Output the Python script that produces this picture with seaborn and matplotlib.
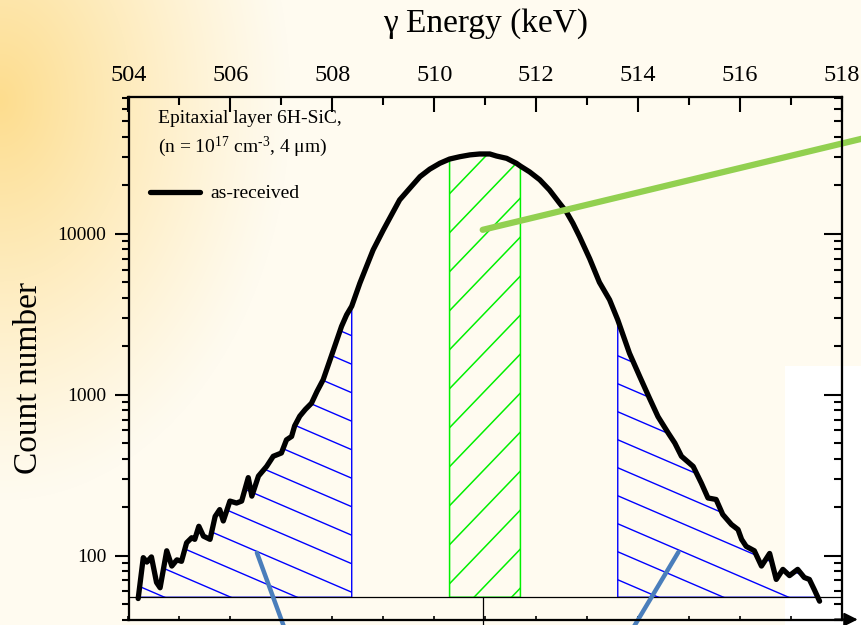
import numpy as np
import pandas as pd
import matplotlib
matplotlib.use("Agg")
import matplotlib.pyplot as plt
import seaborn as sns
from matplotlib.collections import LineCollection
from matplotlib.patches import Rectangle
from matplotlib.ticker import MultipleLocator, FixedLocator, LogLocator, NullFormatter

# ---------------- data ----------------
energy_kev = [
    504.19, 504.29, 504.36, 504.45, 504.55, 504.62, 504.75, 504.85, 504.95, 505.04,
    505.14, 505.24, 505.30, 505.38, 505.47, 505.60, 505.70, 505.79, 505.86, 505.99,
    506.12, 506.22, 506.35, 506.42, 506.55, 506.71, 506.84, 507.00, 507.10, 507.20,
    507.26, 507.36, 507.47, 507.59, 507.70, 507.82, 507.99, 508.18, 508.28, 508.38,
    508.54, 508.67, 508.80, 509.00, 509.16, 509.32, 509.52, 509.72, 509.91, 510.11,
    510.30, 510.50, 510.70, 510.89, 511.09, 511.22, 511.42, 511.61, 511.69, 511.87,
    512.07, 512.26, 512.46, 512.59, 512.72, 512.85, 513.05, 513.24, 513.44, 513.60,
    513.83, 514.03, 514.22, 514.39, 514.59, 514.72, 514.85, 515.08, 515.24, 515.37,
    515.53, 515.66, 515.83, 515.96, 516.03, 516.12, 516.28, 516.42, 516.58, 516.71,
    516.84, 516.97, 517.13, 517.26, 517.36, 517.46, 517.56,
]
counts = [
    54, 97, 91, 98, 68, 63, 107, 86, 94, 92,
    120, 129, 126, 152, 132, 126, 175, 193, 164, 218,
    212, 218, 305, 234, 312, 358, 414, 434, 524, 550,
    640, 735, 810, 885, 1050, 1240, 1775, 2660, 3140, 3550,
    4940, 6270, 7950, 10570, 13120, 16270, 19230, 22700, 25260, 27500,
    29200, 30200, 31000, 31400, 31400, 30500, 29500, 27500, 26400, 24300,
    21700, 18750, 15500, 13750, 11650, 9620, 7000, 5000, 3890, 2920,
    1810, 1300, 955, 730, 578, 500, 414, 358, 282, 228,
    223, 180, 156, 145, 126, 114, 107, 86, 103, 71,
    82, 75, 82, 73, 71, 61, 52,
]
wing_regions = [(504.19, 508.38), (513.60, 517.56)]
center_region = (510.30, 511.69)
baseline_counts = 55
marker_energy = 510.95
green_callout_point = (510.95, 10600)
blue_callout_points = [(506.52, 104), (514.79, 105)]

x_ticks = [504, 506, 508, 510, 512, 514, 516, 518]
y_ticks = [100, 1000, 10000]
y_tick_labels = ["100", "1000", "10000"]
x_label = "γ Energy (keV)"
y_label = "Count number"
sample_lines = ["Epitaxial layer 6H-SiC,", r"(n = 10$^{17}$ cm$^{\text{-3}}$, 4 μm)"]
legend_label = "as-received"

# ---------------- style ----------------
sns.set_style("ticks", rc={"axes.edgecolor": "black", "xtick.color": "black",
                           "ytick.color": "black", "text.color": "black",
                           "axes.labelcolor": "black"})
plt.rcParams["font.family"] = ["Liberation Serif", "DejaVu Serif"]
plt.rcParams["mathtext.fontset"] = "custom"
plt.rcParams["mathtext.rm"] = "Liberation Serif"
plt.rcParams["mathtext.it"] = "Liberation Serif:italic"
plt.rcParams["mathtext.bf"] = "Liberation Serif:bold"

W, H, DPI = 861, 625, 100
fig = plt.figure(figsize=(W / DPI, H / DPI), dpi=DPI)

# background: warm glow along the upper-left edge, plus white patch lower right
bg = fig.add_axes([0, 0, 1, 1], zorder=-10)
yy, xx = np.mgrid[0:H, 0:W]
d = np.sqrt(((xx - 0.0) / 290.0) ** 2 + ((yy - 100.0) / 400.0) ** 2)
w = np.clip(1 - d, 0, 1) ** 1.15
cream = np.array([255, 251, 240]) / 255.0
orange = np.array([253, 221, 142]) / 255.0
img = cream + w[..., None] * (orange - cream)
bg.imshow(img, extent=[0, W, H, 0], aspect="auto", interpolation="bilinear")
bg.add_patch(Rectangle((785, 366), W - 785, H - 366, color="white", lw=0))
bg.set_xlim(0, W)
bg.set_ylim(H, 0)
bg.axis("off")

# main axes
ax_l, ax_r, ax_t, ax_b = 128.5, 842.0, 97.0, 619.5
ax = fig.add_axes([ax_l / W, 1 - ax_b / H, (ax_r - ax_l) / W, (ax_b - ax_t) / H])
ax.set_facecolor("none")
ax.set_yscale("log")
ax.set_xlim(504, 518)
ax.set_ylim(40, 71000)

df = pd.DataFrame({"Energy": energy_kev, "Counts": counts})
sns.lineplot(data=df, x="Energy", y="Counts", ax=ax, color="black", lw=3.8,
             label=legend_label, zorder=6, sort=False,
             solid_joinstyle="round", solid_capstyle="round")

E = np.array(energy_kev, dtype=float)
C = np.array(counts, dtype=float)


def hatched(lo, hi, color, slope, spacing, anchor, lw=1.0):
    m = (E >= lo - 1e-9) & (E <= hi + 1e-9)
    poly = ax.fill_between(E[m], C[m], baseline_counts, facecolor="none",
                           edgecolor=color, lw=lw, zorder=3)
    axp, ayp = anchor[0], H - anchor[1]
    b0 = ayp - slope * axp
    segs = []
    for k in range(-120, 121):
        b = b0 + k * spacing
        segs.append([(0.0, b / H), (1.0, (b + slope * W) / H)])
    lc = LineCollection(segs, colors=color, linewidths=lw,
                        transform=fig.transFigure, zorder=3)
    ax.add_collection(lc, autolim=False)
    lc.set_clip_path(poly.get_paths()[0], ax.transData)


hatched(*wing_regions[0], "#0000FF", -0.43, 28.5, (351.7, 392.7))
hatched(*wing_regions[1], "#0000FF", -0.43, 28.0, (618.3, 440.0))
hatched(*center_region, "#00F000", 1.04, 39.0, (520.7, 431.7), lw=1.1)

ax.axhline(baseline_counts, color="black", lw=0.9, zorder=4)
lo_lim, hi_lim = ax.get_ylim()
base_frac = (np.log10(baseline_counts) - np.log10(lo_lim)) / (np.log10(hi_lim) - np.log10(lo_lim))
ax.axvline(marker_energy, ymin=-0.05, ymax=base_frac, color="black", lw=0.9,
           clip_on=False, zorder=4)

# axis ticks
ax.xaxis.set_major_locator(FixedLocator(x_ticks))
ax.xaxis.set_minor_locator(MultipleLocator(1))
ax.tick_params(axis="x", which="both", direction="in", length=3, width=1.2,
               bottom=True, top=False, labelbottom=False)
ax.yaxis.set_major_locator(FixedLocator(y_ticks))
ax.set_yticklabels(y_tick_labels)
ax.yaxis.set_minor_locator(LogLocator(base=10, subs=np.arange(2, 10)))
ax.yaxis.set_minor_formatter(NullFormatter())
ax.tick_params(axis="y", which="major", direction="out", length=10, width=1.5,
               labelsize=14, pad=6, left=True, right=False)
ax.tick_params(axis="y", which="minor", direction="out", length=5, width=1.5,
               left=True, right=False)
ax.set_xlabel("")
ax.set_ylabel(y_label, fontsize=24)
ax.yaxis.set_label_coords(-0.118, 0.462)
for s in ax.spines.values():
    s.set_linewidth(1.5)
    s.set_color("black")

# top axis (labels)
axt = ax.twiny()
axt.set_xlim(ax.get_xlim())
axt.xaxis.set_major_locator(FixedLocator(x_ticks))
axt.xaxis.set_minor_locator(MultipleLocator(1))
axt.tick_params(axis="x", which="major", direction="in", length=11, width=1.5,
                labelsize=17.5, pad=8, top=True, bottom=False, labeltop=True,
                labelbottom=False)
axt.tick_params(axis="x", which="minor", direction="in", length=6, width=1.5,
                top=True, bottom=False)
axt.set_xlabel(x_label, fontsize=24, labelpad=24)
for s in axt.spines.values():
    s.set_linewidth(1.5)
    s.set_color("black")

# right axis (inward ticks, no labels)
axr = ax.twinx()
axr.set_yscale("log")
axr.set_ylim(ax.get_ylim())
axr.yaxis.set_major_locator(FixedLocator(y_ticks))
axr.yaxis.set_minor_locator(LogLocator(base=10, subs=np.arange(2, 10)))
axr.yaxis.set_minor_formatter(NullFormatter())
axr.tick_params(axis="y", which="major", direction="in", length=13, width=1.5,
                right=True, left=False, labelright=False, labelleft=False)
axr.tick_params(axis="y", which="minor", direction="in", length=6, width=1.5,
                right=True, left=False)
for s in axr.spines.values():
    s.set_linewidth(1.5)
    s.set_color("black")

# annotation text and legend
ax.text(0.0413, 0.9497, sample_lines[0], transform=ax.transAxes, fontsize=14,
        va="baseline", ha="left")
ax.text(0.0413, 0.8953, sample_lines[1], transform=ax.transAxes, fontsize=14,
        va="baseline", ha="left")
ax.legend(loc="upper left", bbox_to_anchor=(0.030, 0.832), frameon=False,
          fontsize=14, handlelength=2.6, handletextpad=0.5, borderpad=0,
          borderaxespad=0)

# callout lines
ax.annotate("", xy=green_callout_point, xycoords="data",
            xytext=(1.022, 0.785), textcoords="figure fraction",
            arrowprops=dict(arrowstyle="-", color="#92D050", lw=4.5,
                            shrinkA=0, shrinkB=0),
            annotation_clip=False, zorder=7)
for pt, end in zip(blue_callout_points, [(0.3354, -0.024), (0.727, -0.024)]):
    ax.annotate("", xy=pt, xycoords="data", xytext=end,
                textcoords="figure fraction",
                arrowprops=dict(arrowstyle="-", color="#4A7EBB", lw=3.2,
                                shrinkA=0, shrinkB=0),
                annotation_clip=False, zorder=7)

# arrow on the bottom axis line
ax.annotate("", xy=(1.022, 0), xycoords="axes fraction", xytext=(0.99, 0),
            textcoords="axes fraction",
            arrowprops=dict(arrowstyle="-|>", color="black", lw=1.5,
                            mutation_scale=20, shrinkA=0, shrinkB=0),
            annotation_clip=False)

fig.savefig("out.png", dpi=DPI)
